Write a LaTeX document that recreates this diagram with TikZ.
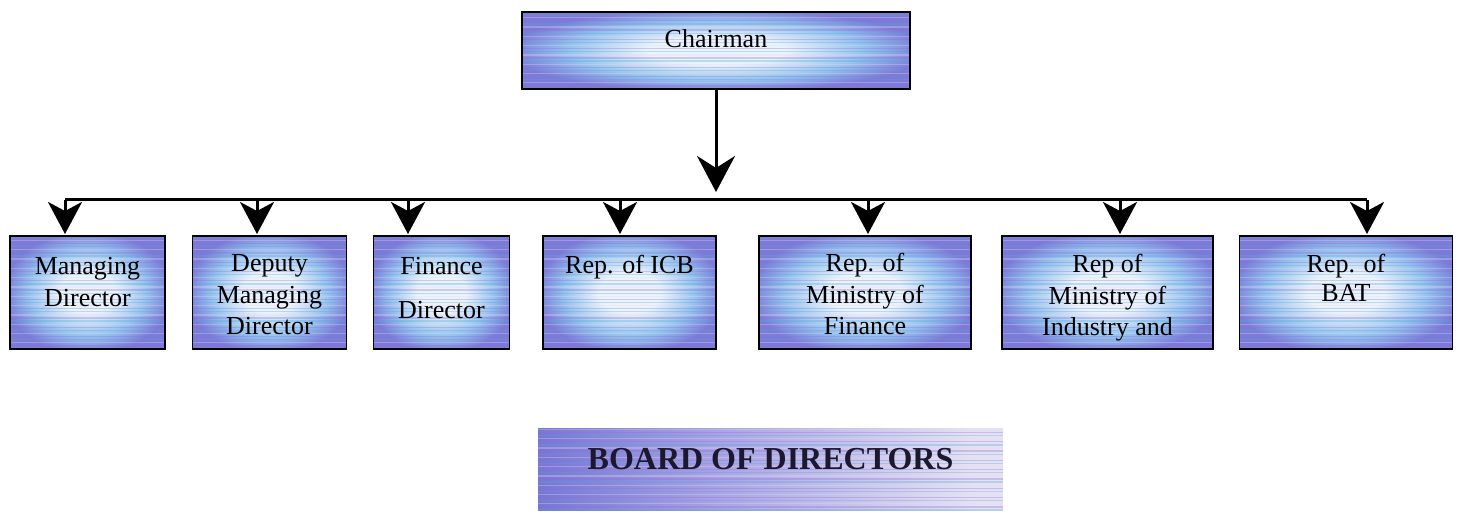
\documentclass[tikz,border=0pt]{standalone}
\usepackage{fontspec}
\setmainfont{Liberation Serif}
\usetikzlibrary{arrows.meta}

% panel colours
\definecolor{pw}{RGB}{234,243,250}
\definecolor{pm}{RGB}{150,195,238}
\definecolor{pb}{RGB}{124,124,216}
\definecolor{bv}{RGB}{120,118,212}
\definecolor{bm}{RGB}{170,165,228}
\definecolor{bl}{RGB}{228,226,242}
\definecolor{stA}{RGB}{80,165,225}
\definecolor{stB}{RGB}{140,110,215}
\definecolor{stC}{RGB}{235,215,245}

% light centre fading to blue-violet edges
\pgfdeclareradialshading{panelshade}{\pgfpoint{0bp}{0bp}}{%
  color(0bp)=(pw); color(9bp)=(pw); color(19bp)=(pm); color(27bp)=(pb); color(50bp)=(pb)}
% dark left, pale right
\pgfdeclarehorizontalshading{boardshade}{100bp}{%
  color(0bp)=(bv); color(25bp)=(bv); color(45bp)=(bm); color(72bp)=(bl); color(100bp)=(bl)}

% text block inside a panel: width, height, top gap, lines
\newcommand\panelbody[4]{\parbox[c][#2bp][t]{#1bp}{\centering\vspace*{#3bp}\strut #4}}

\tikzset{
  streaks/.style={path picture={
    \foreach \k in {0,...,40}{
      \pgfmathtruncatemacro\m{mod(\k,3)}
      \ifcase\m \def\sc{stA}\or \def\sc{stB}\or \def\sc{stC}\fi
      \draw[draw=\sc, opacity=0.32, line width=1.3bp]
        ([yshift=\k*3.1bp]path picture bounding box.south west) --
        ([yshift=\k*3.1bp]path picture bounding box.south east);
    }}},
  panel/.style={draw=black, line width=1.4bp, inner sep=0pt, outer sep=0pt,
    shading=panelshade, streaks,
    font=\fontsize{26bp}{31bp}\selectfont},
  boardpanel/.style={draw=none, inner sep=0pt, outer sep=0pt,
    shading=boardshade, streaks, text={rgb,255:red,28;green,24;blue,48},
    font=\fontsize{32bp}{38bp}\selectfont\bfseries},
  bigarrow/.style={line width=3bp, -{Stealth[length=36bp,width=38bp,inset=12bp]}},
  subarrow/.style={line width=3bp, shorten >=2bp, -{Stealth[length=32bp,width=34bp,inset=9bp]}},
  bus/.style={line width=3bp},
}

\begin{document}
\begin{tikzpicture}[x=1bp, y=-1bp]
  \useasboundingbox (0,0) rectangle (1460,517);

  % top of the chart
  \node[panel] (ch) at (716,50.5) {\panelbody{388}{77}{14.3}{Chairman}};

  % directors
  \node[panel] (md)  at (87.5,292.5)  {\panelbody{155}{113}{17.3}{Managing\\Director}};
  \node[panel] (dmd) at (269.5,292.5) {\panelbody{154}{113}{14.3}{Deputy\\Managing\\Director}};
  \node[panel] (fd)  at (441.5,292.5) {\panelbody{136}{113}{17.3}{Finance\\[12bp]Director}};
  \node[panel] (icb) at (629.5,292.5) {\panelbody{173}{113}{16.3}{Rep. of ICB}};
  \node[panel] (mof) at (865,292.5)   {\panelbody{212}{113}{14.3}{Rep. of\\Ministry of\\Finance}};
  \node[panel] (moi) at (1107.5,292.5){\panelbody{211}{113}{15.3}{Rep of\\Ministry of\\Industry and}};
  \node[panel] (bat) at (1346,292.5)  {\panelbody{213}{113}{15.3}{Rep. of\\[-3bp]BAT}};

  % caption panel
  \node[boardpanel] (bod) at (770.5,469) {\panelbody{465}{82}{14.4}{BOARD OF DIRECTORS}};

  % connectors
  \coordinate (tip) at (716,192);
  \draw[bigarrow] (ch.south) -- (ch.south |- tip);

  \coordinate (b1) at (65,200);
  \coordinate (b2) at (257,200);
  \coordinate (b3) at (408,200);
  \coordinate (b4) at (620,200);
  \coordinate (b5) at (868,200);
  \coordinate (b6) at (1120,200);
  \coordinate (b7) at (1367,200);
  \draw[bus] (b1) -- (b7);

  \draw[subarrow] (b1) -- (b1 |- md.north);
  \draw[subarrow] (b2) -- (b2 |- dmd.north);
  \draw[subarrow] (b3) -- (b3 |- fd.north);
  \draw[subarrow] (b4) -- (b4 |- icb.north);
  \draw[subarrow] (b5) -- (b5 |- mof.north);
  \draw[subarrow] (b6) -- (b6 |- moi.north);
  \draw[subarrow] (b7) -- (b7 |- bat.north);
\end{tikzpicture}
\end{document}
